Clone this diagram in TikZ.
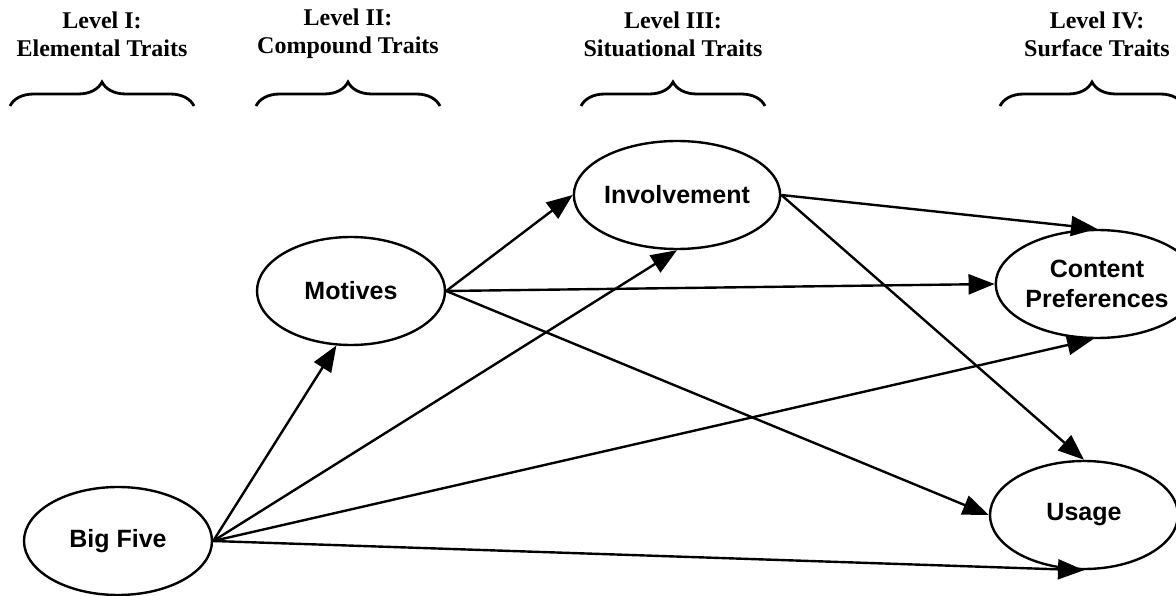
\documentclass[tikz,border=0pt]{standalone}
\usepackage{fontspec}
\setmainfont{Liberation Serif}
\newfontfamily\labelfont{Liberation Sans}
\usepackage{tikz}
\usetikzlibrary{arrows.meta,shapes.geometric,decorations.pathreplacing}

\begin{document}
\begin{tikzpicture}[x=1pt,y=-1pt]
\tikzset{
  construct/.style={ellipse,draw=black,line width=2.4pt,fill=white,minimum width=188pt,
    minimum height=108pt,inner sep=0pt,align=center,
    font=\labelfont\bfseries\fontsize{25}{30}\selectfont},
  levelhead/.style={align=center,font=\bfseries\fontsize{24}{28}\selectfont},
  levelbrace/.style={decorate,decoration={brace,amplitude=24pt},line width=2.8pt},
  link/.style={line width=2.4pt,-{Triangle[length=26pt,width=20pt]}}
}
\useasboundingbox (0,0) rectangle (1176,596);

% Level headings with their braces
\node[levelhead] (h1) at (102,34) {Level I:\\Elemental Traits};
\node[levelhead] (h2) at (348,34) {Level II:\\Compound Traits};
\node[levelhead] (h3) at (673,34) {Level III:\\Situational Traits};
\node[levelhead] (h4) at (1097,34) {Level IV:\\Surface Traits};
\draw[levelbrace] (10,106) -- (194,106);
\draw[levelbrace] (256,106) -- (440,106);
\draw[levelbrace] (581,106) -- (765,106);
\draw[levelbrace] (1000,106) -- (1184,106);

% Trait constructs
\node[construct] (bigfive) at (118,541) {Big Five};
\node[construct] (motives) at (351,291) {Motives};
\node[construct] (involve) at (677,195) {Involvement};
\node[construct] (content) at (1097,284) {Content\\Preferences};
\node[construct] (usage) at (1084,515) {Usage};

% Paths between levels
\draw[link] (bigfive.east) -- (motives.255);
\draw[link] (bigfive.east) -- (involve.south);
\draw[link] (bigfive.east) -- (content.266);
\draw[link] (bigfive.east) -- (usage.south);
\draw[link] (motives.east) -- (involve.west);
\draw[link] (motives.east) -- (content.west);
\draw[link] (motives.east) -- (usage.west);
\draw[link] (involve.east) -- (content.north);
\draw[link] (involve.east) -- (usage.north);
\end{tikzpicture}
\end{document}
